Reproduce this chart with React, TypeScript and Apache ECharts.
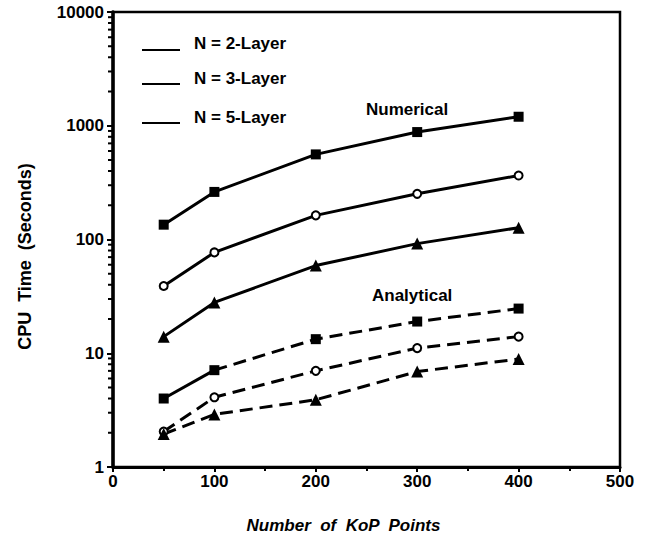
import React, { useEffect, useRef } from "react";
import * as echarts from "echarts";

// KoP points (x)
const kopPoints = [50, 100, 200, 300, 400];
// Numerical CPU time (s)
const numN2 = [135, 262, 560, 880, 1200];
const numN3 = [39, 77, 163, 252, 365];
const numN5 = [14, 28, 59, 92, 127];
// Analytical CPU time (s)
const anaN2 = [4, 7.1, 13.3, 19, 24.7];
const anaN3 = [2.05, 4.1, 7, 11.1, 14];
const anaN5 = [1.95, 2.9, 3.9, 6.9, 8.9];

const yTicks = [1, 10, 100, 1000, 10000];
const xTicks = [0, 100, 200, 300, 400, 500];
const minorMultipliers = [2, 3, 4, 5, 6, 7, 8, 9];
const legendLabels = ["N = 2-Layer", "N = 3-Layer", "N = 5-Layer"];

export default function App() {
  const ref = useRef<HTMLDivElement>(null);
  useEffect(() => {
    const chart = echarts.init(ref.current!, null, { renderer: "svg" });
    const font = "'Liberation Sans', Arial, Helvetica, sans-serif";
    const pairs = (vals: number[], xs: number[] = kopPoints) =>
      xs.map((x, i) => [x, vals[i]]);
    const solid = { type: "solid", width: 3, color: "#000" };
    const dashed = { type: [13, 7], width: 3, color: "#000" };
    const square = { symbol: "rect", symbolSize: 10, itemStyle: { color: "#000" } };
    const circle = {
      symbol: "circle",
      symbolSize: 8,
      itemStyle: { color: "#fff", borderColor: "#000", borderWidth: 2 },
    };
    const tri = { symbol: "triangle", symbolSize: 12, itemStyle: { color: "#000" } };
    const base = { type: "line", showAllSymbol: true, silent: true, z: 3 };

    const minorTickValues: number[][] = [];
    yTicks.slice(0, -1).forEach((d) =>
      minorMultipliers.forEach((m) => minorTickValues.push([0, d * m]))
    );

    const legendY = [43, 78, 117];
    const legendLineY = [50, 84, 123];
    const graphic: any[] = [];
    legendLabels.forEach((t, i) => {
      graphic.push({
        type: "line",
        shape: { x1: 142, y1: legendLineY[i], x2: 180, y2: legendLineY[i] },
        style: { stroke: "#000", lineWidth: 2 },
      });
      graphic.push({
        type: "text",
        x: 194,
        y: legendY[i],
        style: { text: t, font: `bold 17px ${font}`, fill: "#000", verticalAlign: "middle" },
      });
    });
    graphic.push({
      type: "text",
      x: 366,
      y: 109,
      style: { text: "Numerical", font: `bold 17px ${font}`, fill: "#000", verticalAlign: "middle" },
    });
    graphic.push({
      type: "text",
      x: 372,
      y: 295,
      style: { text: "Analytical", font: `bold 17px ${font}`, fill: "#000", verticalAlign: "middle" },
    });

    chart.setOption({
      animation: false,
      backgroundColor: "#fff",
      grid: {
        left: 113,
        right: 32,
        top: 12,
        bottom: 71,
        show: true,
        borderColor: "#000",
        borderWidth: 2.5,
        containLabel: false,
      },
      xAxis: {
        type: "value",
        min: 0,
        max: 500,
        interval: 100,
        name: "Number  of  KoP  Points",
        nameLocation: "middle",
        nameGap: 50,
        nameTextStyle: {
          fontFamily: font,
          fontSize: 17,
          fontWeight: "bold",
          fontStyle: "italic",
          color: "#000",
          padding: [0, 46, 0, 0],
        },
        axisLine: { lineStyle: { color: "#000", width: 3 } },
        axisTick: { show: true, length: 5, lineStyle: { color: "#000", width: 2 } },
        minorTick: { show: true, splitNumber: 2, length: 4, lineStyle: { color: "#000", width: 2 } },
        axisLabel: {
          fontFamily: font,
          fontSize: 17,
          fontWeight: "bold",
          color: "#000",
          margin: 6,
          formatter: (v: number) => (xTicks.includes(v) ? String(v) : ""),
        },
        splitLine: { show: false },
      },
      yAxis: {
        type: "log",
        logBase: 10,
        min: 1,
        max: 10000,
        name: "CPU  Time  (Seconds)",
        nameLocation: "middle",
        nameGap: 79,
        nameTextStyle: {
          fontFamily: font,
          fontSize: 18,
          fontWeight: "bold",
          color: "#000",
          padding: [0, 34, 0, 0],
        },
        axisLine: { lineStyle: { color: "#000", width: 3.5 } },
        axisTick: { show: true, length: 6, lineStyle: { color: "#000", width: 2 } },
        minorTick: { show: false },
        axisLabel: {
          fontFamily: font,
          fontSize: 17,
          fontWeight: "bold",
          color: "#000",
          margin: 9,
          formatter: (v: number) => (yTicks.includes(v) ? String(v) : ""),
        },
        splitLine: { show: false },
      },
      graphic,
      series: [
        {
          type: "custom",
          name: "y minor ticks",
          silent: true,
          clip: false,
          z: 1,
          data: minorTickValues,
          renderItem: (params: any, api: any) => {
            const p = api.coord([api.value(0), api.value(1)]);
            return {
              type: "line",
              shape: { x1: p[0] - 5, y1: p[1], x2: p[0], y2: p[1] },
              style: { stroke: "#000", lineWidth: 2 },
            };
          },
        },
        { ...base, name: "Numerical N=2", data: pairs(numN2), lineStyle: solid, ...square },
        { ...base, name: "Numerical N=3", data: pairs(numN3), lineStyle: solid, ...circle },
        { ...base, name: "Numerical N=5", data: pairs(numN5), lineStyle: solid, ...tri },
        {
          ...base,
          name: "Analytical N=2 (first segment)",
          data: pairs(anaN2.slice(0, 2), kopPoints.slice(0, 2)),
          lineStyle: solid,
          symbol: "none",
          z: 2,
        },
        {
          ...base,
          name: "Analytical N=2",
          data: pairs(anaN2.slice(1), kopPoints.slice(1)),
          lineStyle: dashed,
          ...square,
        },
        {
          ...base,
          name: "Analytical N=2 start",
          data: pairs(anaN2.slice(0, 1), kopPoints.slice(0, 1)),
          ...square,
        },
        { ...base, name: "Analytical N=3", data: pairs(anaN3), lineStyle: dashed, ...circle },
        { ...base, name: "Analytical N=5", data: pairs(anaN5), lineStyle: dashed, ...tri },
      ],
    });
    return () => chart.dispose();
  }, []);
  return (
    <div
      ref={ref}
      style={{ position: "absolute", left: 0, top: 0, width: 652, height: 539 }}
    />
  );
}
